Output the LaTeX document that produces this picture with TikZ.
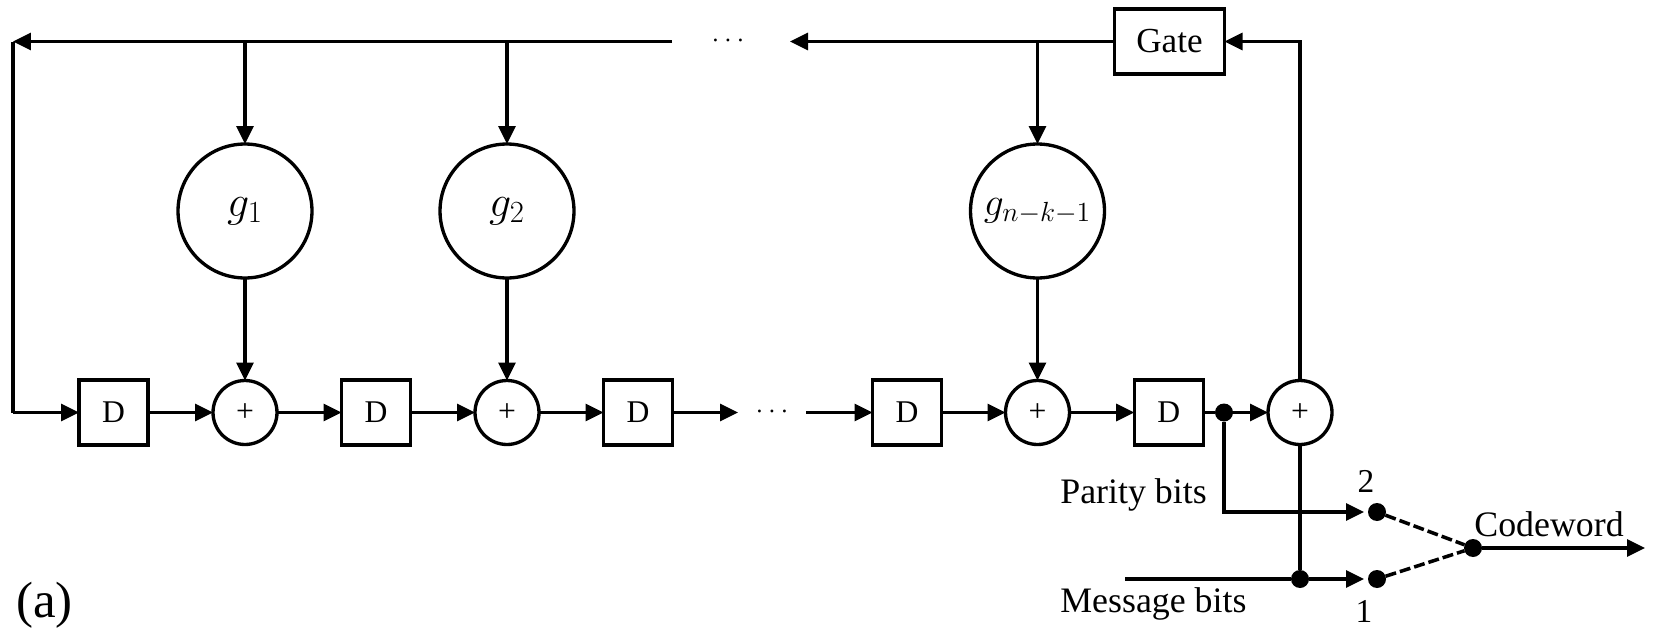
\documentclass[tikz,border=0pt]{standalone}
\usepackage{fix-cm}
\usepackage{fontspec}
\setmainfont{Liberation Serif}
\usetikzlibrary{arrows.meta}
\tikzset{
  wire/.style={line width=1.8pt},
  arr/.style={wire, -{Triangle[length=0.36cm, width=0.34cm]}},
  dbox/.style={draw, line width=1.9pt, minimum width=1.38cm, minimum height=1.3cm, inner sep=0pt, outer sep=0pt, font=\fontsize{18}{20}\selectfont},
  gatebox/.style={dbox, minimum width=2.2cm, font=\fontsize{20}{22}\selectfont},
  gcirc/.style={draw, circle, line width=1.9pt, minimum size=2.68cm, inner sep=0pt, outer sep=0pt, font=\fontsize{25}{27}\selectfont},
  adder/.style={draw, circle, line width=1.9pt, minimum size=1.28cm, inner sep=0pt, outer sep=0pt, font=\fontsize{18}{20}\selectfont},
  jdot/.style={fill, circle, minimum size=0.36cm, inner sep=0pt, outer sep=0pt},
  lbl/.style={anchor=base west, inner sep=0pt, font=\fontsize{20.4}{22}\selectfont},
  num/.style={anchor=base, inner sep=0pt, font=\fontsize{19}{20}\selectfont},
  ellip/.style={inner sep=0pt, font=\fontsize{16}{18}\selectfont},
  sw/.style={line width=2pt, dash pattern=on 0.22cm off 0.08cm},
}
\begin{document}
\begin{tikzpicture}[x=0.02cm, y=-0.02cm]
\useasboundingbox (0,0) rectangle (1653,632);
% Top line {{{
\node[gatebox] (gate) at (1169.5,41.5) {Gate};
\node[ellip] (dotsT) at (728,41.5) {$\cdots$};
\coordinate (topL) at (13,41.5);
\coordinate (botL) at (13,412.5);
\coordinate (topM) at (672,41.5);
\coordinate (topR) at (790,41.5);
% }}}
% Shift register {{{
\node[dbox] (d1) at (113.5,412.5) {D};
\node[adder] (a1) at (245,412.5) {+};
\node[dbox] (d2) at (376,412.5) {D};
\node[adder] (a2) at (507,412.5) {+};
\node[dbox] (d3) at (638,412.5) {D};
\node[ellip] (dotsB) at (772,412.5) {$\cdots$};
\node[dbox] (d4) at (907,412.5) {D};
\node[adder] (a3) at (1037.5,412.5) {+};
\node[dbox] (d5) at (1168.7,412.5) {D};
\node[jdot] (jp) at (1224,412.5) {};
\node[adder] (a4) at (1300,412.5) {+};
\coordinate (regA) at (738,412.5);
\coordinate (regB) at (806,412.5);
% }}}
% Multipliers {{{
\node[gcirc] (g1) at (245,211) {$g_1$};
\node[gcirc] (g2) at (507,211) {$g_2$};
\node[gcirc, font=\fontsize{22.5}{24}\selectfont] (g3) at (1037.5,211) {$g_{n-k-1}$};
\foreach \n in {1,2,3} {
  \draw[arr] (g\n.north |- topL) -- (g\n.north);
  \draw[arr] (g\n.south) -- (a\n.north);
}
% }}}
% Output switch {{{
\node[jdot] (s2) at (1377,512) {};
\node[jdot] (s1) at (1377,579) {};
\node[jdot] (sout) at (1473,548) {};
\node[jdot] (jm) at (1300,579) {};
\coordinate (msgIn) at (1125,579);
\coordinate (outEnd) at (1645,548);
\node[lbl] (parity) at (1060,503) {Parity bits};
\node[lbl] (message) at (1060,612) {Message bits};
\node[lbl] (codeword) at (1474,536) {Codeword};
\node[num] (two) at (1366,492) {2};
\node[num] (one) at (1364,622) {1};
\node[anchor=base west, inner sep=0pt, font=\fontsize{29}{32}\selectfont] (cap) at (16,617) {(a)};
% }}}
% Connectors {{{
\draw[arr] (gate) -- (topR);
\draw[arr] (topM) -- (topL);
\draw[wire] (topL) -- (botL);
\draw[arr] (botL) -- (d1);
\draw[arr] (d1) -- (a1);
\draw[arr] (a1) -- (d2);
\draw[arr] (d2) -- (a2);
\draw[arr] (a2) -- (d3);
\draw[arr] (d3) -- (regA);
\draw[arr] (regB) -- (d4);
\draw[arr] (d4) -- (a3);
\draw[arr] (a3) -- (d5);
\draw[wire] (d5) -- (jp);
\draw[arr] (jp) -- (a4);
\draw[arr] (a4.north) |- (gate.east);
\draw[wire] (a4.south) -- (jm);
\draw[arr, shorten >=0.08cm] (jp) |- (s2);
\draw[wire] (msgIn) -- (jm);
\draw[arr, shorten >=0.08cm] (jm) -- (s1);
\draw[sw] (s2) -- (sout);
\draw[sw] (s1) -- (sout);
\draw[arr] (sout) -- (outEnd);
% }}}
\end{tikzpicture}
\end{document}
